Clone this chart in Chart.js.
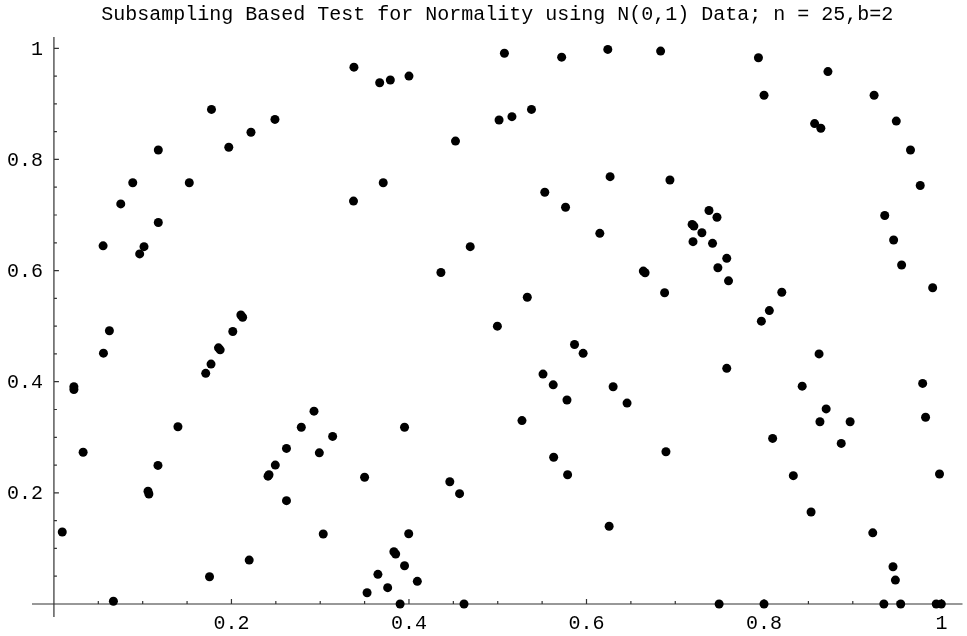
<!DOCTYPE html>
<html lang="en">
<head>
    <meta charset="UTF-8">
    <title>Subsampling Based Test for Normality</title>
    <script src="https://cdn.jsdelivr.net/npm/chart.js"></script>
    <style>
        body { margin: 0; background: white; }
        .chart-wrapper { width: 967px; height: 636px; }
        canvas { width: 100% !important; height: 100% !important; }
    </style>
</head>
<body>
    <div class="chart-wrapper">
        <canvas id="normalityChart"></canvas>
    </div>

    <script>
        // values
        const xValues = [
            0.1775, 0.1176, 0.197, 0.222, 0.0888, 0.1525, 0.0753, 0.1176, 0.338, 0.367,
            0.379, 0.400, 0.249, 0.4524, 0.371, 0.3375, 0.5075, 0.572, 0.624, 0.6835,
            0.5015, 0.516, 0.538, 0.6266, 0.694, 0.553, 0.5764, 0.738, 0.747, 0.7937,
            0.872, 0.800, 0.924, 0.857, 0.864, 0.949, 0.965, 0.976, 0.936, 0.0554,
            0.0966, 0.1015, 0.0625, 0.0558, 0.0225, 0.0225, 0.2106, 0.2126, 0.2015, 0.1854,
            0.1873, 0.177, 0.171, 0.1397, 0.469, 0.436, 0.293, 0.2787, 0.395, 0.615,
            0.664, 0.666, 0.688, 0.5333, 0.4996, 0.5865, 0.5962, 0.551, 0.5625, 0.630,
            0.578, 0.6457, 0.5273, 0.719, 0.721, 0.730, 0.720, 0.742, 0.758, 0.748,
            0.760, 0.758, 0.946, 0.955, 0.990, 0.820, 0.806, 0.797, 0.862, 0.843,
            0.9787, 0.870, 0.863, 0.897, 0.982, 0.0329, 0.1172, 0.106, 0.107, 0.0094,
            0.1753, 0.067, 0.220, 0.314, 0.262, 0.299, 0.2494, 0.2412, 0.2423, 0.350,
            0.446, 0.457, 0.262, 0.3034, 0.3997, 0.383, 0.385, 0.395, 0.365, 0.4094,
            0.376, 0.3528, 0.390, 0.462, 0.6895, 0.563, 0.5787, 0.6255, 0.7494, 0.800,
            0.8097, 0.887, 0.9977, 0.833, 0.853, 0.9225, 0.9453, 0.948, 0.935, 0.954,
            0.994, 0.9997
        ];
        const yValues = [
            0.890, 0.817, 0.822, 0.849, 0.758, 0.758, 0.720, 0.6865, 0.966, 0.938,
            0.943, 0.950, 0.872, 0.833, 0.758, 0.725, 0.991, 0.984, 0.998, 0.995,
            0.871, 0.877, 0.890, 0.769, 0.763, 0.741, 0.714, 0.708, 0.696, 0.983,
            0.958, 0.9155, 0.9155, 0.8645, 0.856, 0.869, 0.817, 0.753, 0.699, 0.6445,
            0.630, 0.643, 0.4916, 0.4514, 0.391, 0.386, 0.520, 0.516, 0.4904, 0.461,
            0.4574, 0.4317, 0.415, 0.319, 0.643, 0.5966, 0.347, 0.318, 0.318, 0.667,
            0.599, 0.596, 0.560, 0.552, 0.500, 0.467, 0.451, 0.4137, 0.3944, 0.391,
            0.367, 0.3615, 0.330, 0.683, 0.680, 0.668, 0.652, 0.649, 0.622, 0.605,
            0.5815, 0.424, 0.655, 0.610, 0.569, 0.561, 0.528, 0.509, 0.450, 0.392,
            0.397, 0.351, 0.328, 0.328, 0.336, 0.273, 0.2494, 0.203, 0.198, 0.1295,
            0.049, 0.005, 0.079, 0.3016, 0.280, 0.272, 0.250, 0.230, 0.2326, 0.228,
            0.220, 0.1985, 0.186, 0.126, 0.1265, 0.094, 0.090, 0.0689, 0.0534, 0.0408,
            0.0294, 0.0203, 0.0, 0.0, 0.274, 0.264, 0.2326, 0.140, 0.0, 0.0,
            0.298, 0.289, 0.234, 0.231, 0.1655, 0.128, 0.067, 0.043, 0.0, 0.0,
            0.0, 0.0
        ];
        const xTickLabels = ['0.2', '0.4', '0.6', '0.8', '1'];
        const yTickLabels = ['0.2', '0.4', '0.6', '0.8', '1'];

        const tickFont = '20px "Liberation Mono", "Courier New", monospace';

        // Mathematica style axes crossing at the origin, ticks pointing inwards
        const originAxes = {
            id: 'originAxes',
            beforeDatasetsDraw(chart) {
                const ctx = chart.ctx;
                const area = chart.chartArea;
                const xs = chart.scales.x;
                const ys = chart.scales.y;
                const x0 = xs.getPixelForValue(0);
                const y0 = ys.getPixelForValue(0);

                ctx.save();
                ctx.strokeStyle = '#333';
                ctx.lineWidth = 1.2;
                ctx.beginPath();
                ctx.moveTo(area.left, y0);
                ctx.lineTo(area.right, y0);
                ctx.moveTo(x0, area.top);
                ctx.lineTo(x0, area.bottom);

                // minor ticks every 0.05, major every 0.2
                for (let i = 1; i <= 20; i++) {
                    const v = i * 0.05;
                    const len = (i % 4 === 0) ? 5 : 3;
                    const px = xs.getPixelForValue(v);
                    const py = ys.getPixelForValue(v);
                    ctx.moveTo(px, y0);
                    ctx.lineTo(px, y0 - len);
                    ctx.moveTo(x0, py);
                    ctx.lineTo(x0 + len, py);
                }
                ctx.stroke();

                ctx.fillStyle = '#000';
                ctx.font = tickFont;
                ctx.textAlign = 'center';
                ctx.textBaseline = 'top';
                xTickLabels.forEach(label => {
                    ctx.fillText(label, xs.getPixelForValue(parseFloat(label)), y0 + 10);
                });
                ctx.textAlign = 'right';
                ctx.textBaseline = 'middle';
                yTickLabels.forEach(label => {
                    ctx.fillText(label, x0 - 11, ys.getPixelForValue(parseFloat(label)) + 1);
                });
                ctx.restore();
            }
        };

        function createNormalityChart() {
            const ctx = document.getElementById('normalityChart').getContext('2d');
            new Chart(ctx, {
                type: 'scatter',
                data: {
                    datasets: [{
                        label: 'subsamples',
                        data: xValues.map((x, i) => ({ x: x, y: yValues[i] })),
                        backgroundColor: '#000',
                        borderWidth: 0,
                        pointRadius: 4.5,
                        pointHoverRadius: 4.5
                    }]
                },
                options: {
                    responsive: true,
                    maintainAspectRatio: false,
                    animation: false,
                    layout: { padding: { left: 32, right: 2, top: 0, bottom: 19 } },
                    scales: {
                        x: { type: 'linear', display: false, min: -0.0247, max: 1.0236 },
                        y: { type: 'linear', display: false, min: -0.0234, max: 1.0203 }
                    },
                    plugins: {
                        legend: { display: false },
                        tooltip: { enabled: false },
                        title: {
                            display: true,
                            fullSize: false,
                            text: 'Subsampling Based Test for Normality using N(0,1) Data; n = 25,b=2',
                            color: '#000',
                            font: { family: '"Liberation Mono", "Courier New", monospace', size: 20, weight: 'normal' },
                            padding: { top: 2.5, bottom: 10.5 }
                        }
                    }
                },
                plugins: [originAxes]
            });
        }

        window.onload = createNormalityChart;
    </script>
</body>
</html>
